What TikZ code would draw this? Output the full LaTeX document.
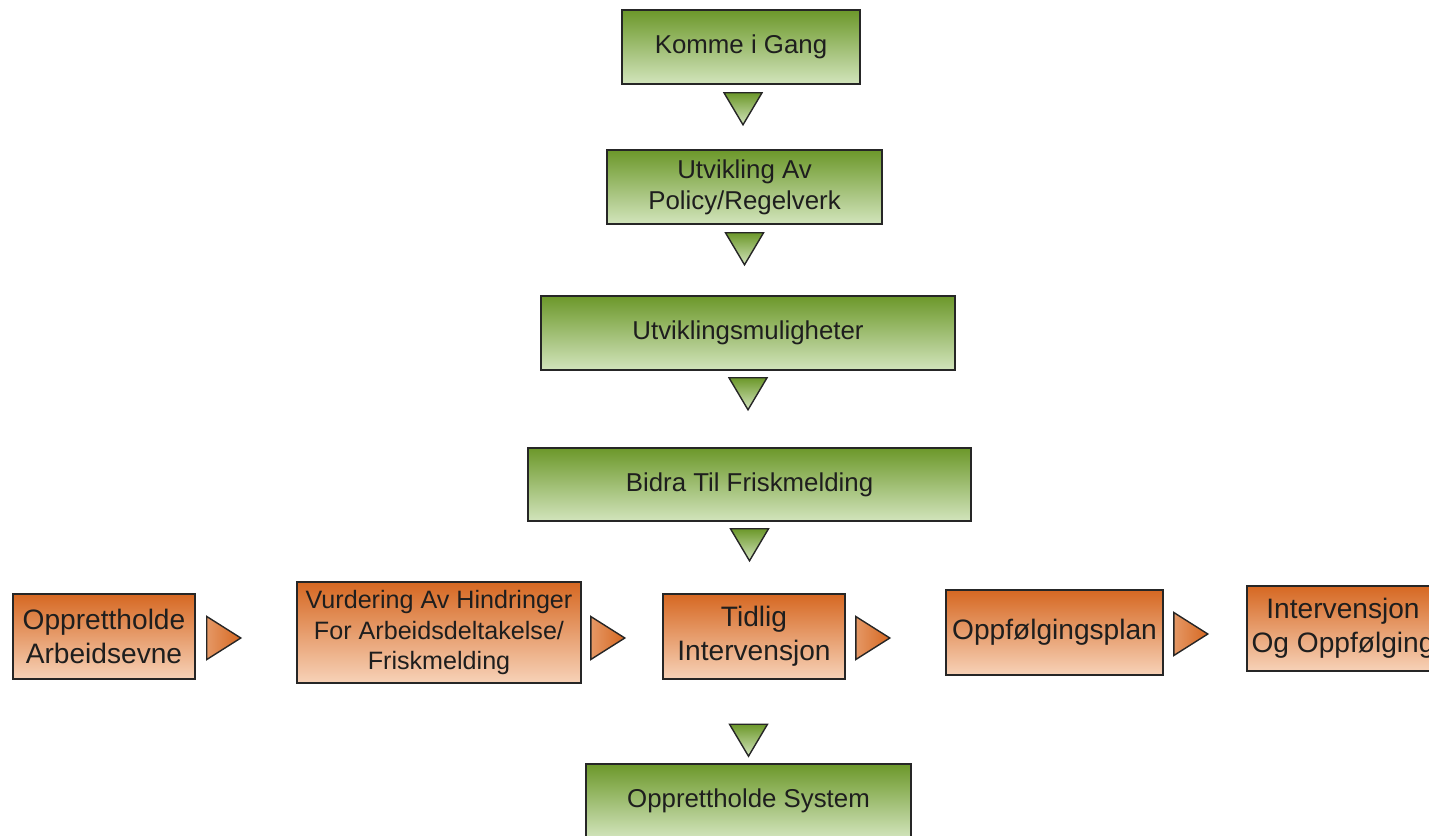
\documentclass[tikz,border=0pt]{standalone}
\usepackage{fontspec}
\setmainfont{Liberation Sans}
\usetikzlibrary{positioning}

% Shaded arrow heads between the boxes
\newcommand{\tridown}[1]{\shade[top color=leafdark, bottom color=leaflight, draw=black!85, line width=0.8pt, line join=miter] #1 ++(-0.38,0) -- ++(0.76,0) -- ++(-0.38,-0.64) -- cycle;}
\newcommand{\triright}[1]{\shade[left color=rustdark!55!rustlight, right color=rustdark, draw=black!85, line width=0.8pt, line join=miter] #1 ++(0,0.43) -- ++(0.68,-0.43) -- ++(-0.68,-0.43) -- cycle;}

\begin{document}
\begin{tikzpicture}

% Define colors
\definecolor{leafdark}{RGB}{108,152,42}
\definecolor{leaflight}{RGB}{210,228,188}
\definecolor{rustdark}{RGB}{214,104,34}
\definecolor{rustlight}{RGB}{247,210,184}
\definecolor{inktext}{RGB}{30,30,30}

\tikzset{
  stage/.style={draw=black!85, line width=0.9pt, top color=leafdark, bottom color=leaflight,
    text=inktext, align=center, minimum height=1.48cm, inner sep=2pt,
    font=\fontsize{14.7}{17.6}\selectfont},
  task/.style={draw=black!85, line width=0.9pt, top color=rustdark, bottom color=rustlight,
    text=inktext, align=center, minimum height=1.7cm, inner sep=2pt,
    font=\fontsize{16}{19.6}\selectfont}
}

\useasboundingbox (0,0) rectangle (28.58,16.7);
\clip (0,0) rectangle (28.58,16.7);

% Main column
\node[stage, minimum width=4.76cm] (komme) at (14.82,15.76) {Komme i Gang};
\node[stage, minimum width=5.5cm] (policy) at (14.89,12.96) {Utvikling Av\\Policy/Regelverk};
\node[stage, minimum width=8.28cm] (mulig) at (14.96,10.04) {Utviklingsmuligheter};
\node[stage, minimum width=8.86cm, minimum height=1.46cm] (bidra) at (14.99,7.01) {Bidra Til Friskmelding};
\node[stage, minimum width=6.5cm] (system) at (14.97,0.68) {Opprettholde System};

% Row of tasks
\node[task, minimum width=3.64cm] (evne) at (2.08,3.97) {Opprettholde\\Arbeidsevne};
\node[task, minimum width=5.68cm, minimum height=2.02cm, font=\fontsize{14.3}{17.6}\selectfont] (vurd) at (8.78,4.05) {Vurdering Av Hindringer\\For Arbeidsdeltakelse/\\Friskmelding};
\node[task, minimum width=3.64cm] (tidlig) at (15.08,3.97) {Tidlig\\Intervensjon};
\node[task, minimum width=4.34cm] (plan) at (21.09,4.05) {Oppfølgingsplan};
\node[task, minimum width=3.84cm] (oppf) at (26.86,4.13) {Intervensjon\\Og Oppfølging};

% Down arrows
\tridown{([xshift=0.04cm, yshift=-0.16cm]komme.south)}
\tridown{([yshift=-0.16cm]policy.south)}
\tridown{([yshift=-0.14cm]mulig.south)}
\tridown{([yshift=-0.14cm]bidra.south)}
\tridown{([yshift=0.78cm]system.north)}

% Right arrows
\triright{([xshift=0.22cm, yshift=-0.03cm]evne.east)}
\triright{([xshift=0.18cm, yshift=-0.11cm]vurd.east)}
\triright{([xshift=0.2cm, yshift=-0.03cm]tidlig.east)}
\triright{([xshift=0.2cm, yshift=-0.03cm]plan.east)}

\end{tikzpicture}
\end{document}
